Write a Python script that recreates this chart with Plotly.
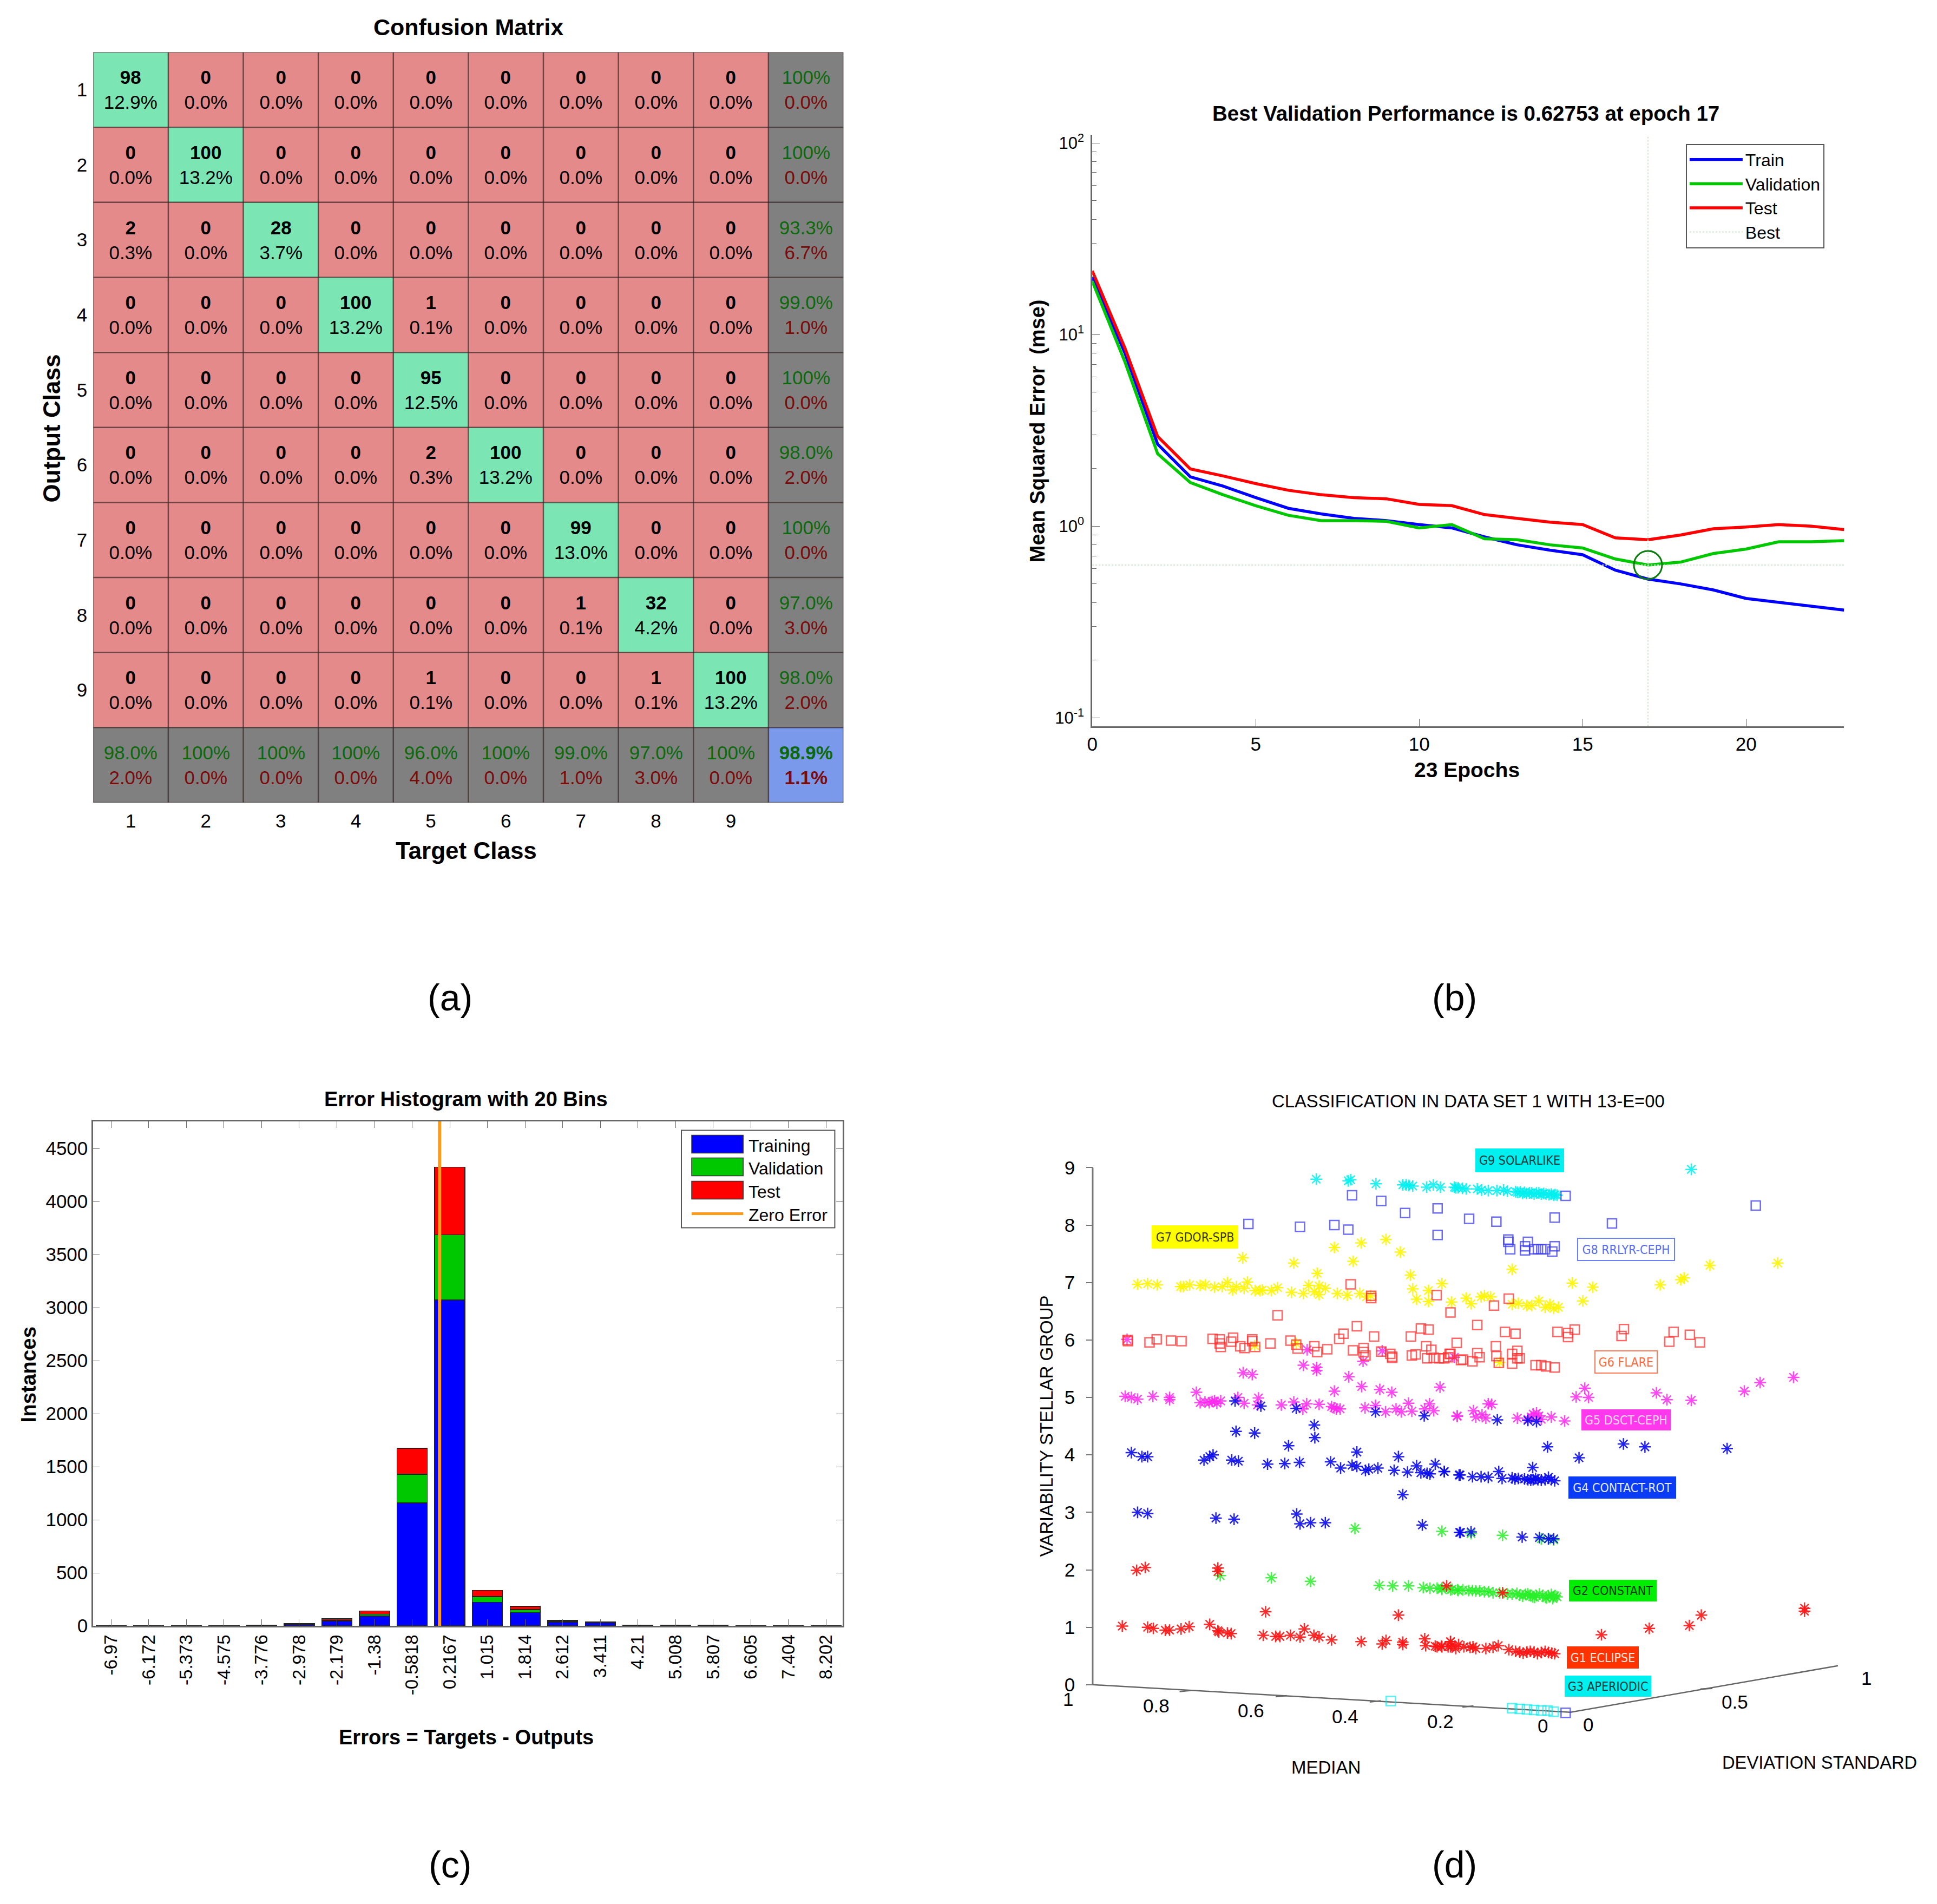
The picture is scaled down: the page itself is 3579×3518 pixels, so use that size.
import plotly.graph_objects as go

W, H = 3579, 3518
FONT = "Liberation Sans"

# ---- (a) confusion matrix ----
classes = [1, 2, 3, 4, 5, 6, 7, 8, 9]
counts = [
    [98, 0, 0, 0, 0, 0, 0, 0, 0],
    [0, 100, 0, 0, 0, 0, 0, 0, 0],
    [2, 0, 28, 0, 0, 0, 0, 0, 0],
    [0, 0, 0, 100, 1, 0, 0, 0, 0],
    [0, 0, 0, 0, 95, 0, 0, 0, 0],
    [0, 0, 0, 0, 2, 100, 0, 0, 0],
    [0, 0, 0, 0, 0, 0, 99, 0, 0],
    [0, 0, 0, 0, 0, 0, 1, 32, 0],
    [0, 0, 0, 0, 1, 0, 0, 1, 100],
]
total_instances = 760
row_ok = ["100%", "100%", "93.3%", "99.0%", "100%", "98.0%", "100%", "97.0%", "98.0%"]
row_bad = ["0.0%", "0.0%", "6.7%", "1.0%", "0.0%", "2.0%", "0.0%", "3.0%", "2.0%"]
col_ok = ["98.0%", "100%", "100%", "100%", "96.0%", "100%", "99.0%", "97.0%", "100%"]
col_bad = ["2.0%", "0.0%", "0.0%", "0.0%", "4.0%", "0.0%", "1.0%", "3.0%", "0.0%"]
all_ok, all_bad = "98.9%", "1.1%"

# ---- (b) performance ----
epochs = list(range(24))
train_mse = [20, 8, 2.68, 1.81, 1.62, 1.41, 1.24, 1.16, 1.10, 1.07, 1.02, 0.98,
             0.88, 0.80, 0.75, 0.71, 0.59, 0.53, 0.50, 0.465, 0.42, 0.40, 0.38, 0.365]
val_mse = [19, 7.2, 2.39, 1.69, 1.46, 1.28, 1.14, 1.07, 1.07, 1.06, 0.98, 1.02,
           0.86, 0.85, 0.80, 0.77, 0.675, 0.62753, 0.65, 0.72, 0.76, 0.83, 0.83, 0.84]
test_mse = [21.5, 8.5, 2.94, 1.99, 1.83, 1.67, 1.54, 1.46, 1.41, 1.39, 1.30, 1.28,
            1.15, 1.10, 1.05, 1.02, 0.87, 0.85, 0.90, 0.97, 0.99, 1.02, 1.0, 0.96]
best_epoch, best_mse = 17, 0.62753

# ---- (c) error histogram ----
bin_labels = ["-6.97", "-6.172", "-5.373", "-4.575", "-3.776", "-2.978", "-2.179", "-1.38",
              "-0.5818", "0.2167", "1.015", "1.814", "2.612", "3.411", "4.21", "5.008",
              "5.807", "6.605", "7.404", "8.202"]
bin_centers = [float(s) for s in bin_labels]
hist_train = [2, 2, 1, 1, 6, 16, 45, 92, 1160, 3071, 224, 127, 33, 28, 6, 5, 4, 1, 2, 2]
hist_val = [0, 0, 0, 0, 1, 4, 8, 18, 268, 615, 53, 27, 8, 5, 1, 1, 1, 0, 0, 0]
hist_test = [1, 1, 1, 0, 2, 5, 15, 30, 246, 637, 57, 30, 10, 5, 2, 1, 1, 0, 1, 1]
hist_ticks = [0, 500, 1000, 1500, 2000, 2500, 3000, 3500, 4000, 4500]

# ---- (d) classification, projected onto the page: horizontal = median axis position (%),
# vertical = group axis ----
g9_x = [53.2, 46.5, 46.0, 40.7, 35.1, 34.4, 33.8, 33.0, 30.1, 28.7, 27.2, 24.3, 24.0, 23.5, 22.6, 21.8,
        19.5, 18.6, 17.2, 15.4, 14.0, 13.2, 11.5, 11.1, 10.5, 10.0, 9.6, 9.2, 8.6, 8.1, 7.6, 7.1, 6.6,
        6.1, 5.6, 5.1, 4.5, 4.0, 3.5, 3.2, 2.8, -25.3]
g9_y = [8.80, 8.77, 8.79, 8.72, 8.70, 8.70, 8.69, 8.68, 8.66, 8.70, 8.66, 8.66, 8.65, 8.65, 8.64, 8.63,
        8.63, 8.61, 8.60, 8.60, 8.61, 8.59, 8.58, 8.57, 8.58, 8.55, 8.57, 8.55, 8.56, 8.56, 8.54, 8.56, 8.56,
        8.54, 8.55, 8.54, 8.53, 8.54, 8.52, 8.53, 8.52, 8.97]
g8_x = [67.4, 56.6, 49.4, 46.5, 45.7, 39.6, 34.6, 27.8, 27.8, 21.2, 15.5, 3.3, -8.7, -38.8, 1.0, 13.0, 13.0,
        12.6, 8.9, 9.5, 9.5, 7.6, 6.8, 6.1, 5.3, 3.3, 3.8, 1.0]
g8_y = [8.02, 7.97, 8.00, 7.92, 8.52, 8.42, 8.21, 8.29, 7.83, 8.11, 8.06, 8.13, 8.03, 8.34, 8.51, 7.75, 7.71,
        7.58, 7.71, 7.63, 7.56, 7.58, 7.58, 7.58, 7.58, 7.63, 7.54, -0.49]
g7_x = [90.6, 88.5, 86.5, 81.6, 81.0, 79.7, 77.5, 76.4, 74.5, 72.9, 71.8, 70.7, 69.9, 68.3, 67.6, 66.0, 65.0,
        64.5, 62.6, 61.3, 58.4, 55.9, 54.8, 53.6, 52.6, 52.6, 51.3, 48.8, 46.7, 44.1, 42.7, 41.8, 33.0, 32.2,
        29.7, 29.7, 26.9, 24.9, 68.6, 57.9, 53.0, 45.5, 49.4, 43.8, 38.6, 35.6, 33.5, 66.1, 57.4,
        21.8, 20.8, 18.7, 18.0, 16.7, 12.2, 12.2, 10.9, 9.1, 8.1, 6.6, 5.3, 4.3, 3.5, 2.5, -0.4, -4.7, -2.6,
        -18.8, -23.1, -23.8, -29.2, -43.4, 14.8]
g7_y = [6.97, 6.98, 6.96, 6.93, 6.93, 6.96, 6.95, 6.96, 6.92, 6.93, 7.00, 6.87, 6.93, 6.90, 7.01, 6.86, 6.86,
        6.87, 6.86, 6.91, 6.83, 6.81, 6.95, 6.84, 6.94, 6.79, 6.90, 6.81, 6.78, 6.81, 6.75, 6.77, 6.89, 6.71,
        6.86, 6.67, 6.98, 6.66, 7.43, 7.34, 7.16, 7.37, 7.61, 7.69, 7.75, 7.53, 7.13, 5.90, 5.94,
        6.73, 6.63, 6.75, 6.77, 6.75, 7.23, 6.62, 6.64, 6.60, 6.60, 6.68, 6.57, 6.62, 6.55, 6.57, 6.99, 6.92, 6.68,
        6.96, 7.05, 7.08, 7.30, 7.34, 5.61]
g6_x = [92.7, 92.6, 88.1, 86.6, 83.6, 81.4, 74.9, 73.4, 73.4, 73.2, 71.0, 70.6, 69.1, 68.2, 66.6, 66.6, 66.0,
        62.8, 61.3, 58.6, 57.4, 57.1, 53.6, 53.0, 50.9, 48.4, 47.5, 46.0, 45.5, 44.7, 43.3, 43.3, 42.9, 41.7,
        41.7, 41.1, 39.6, 37.7, 37.3, 37.3, 33.4, 33.2, 32.4, 31.3, 29.7, 30.2, 30.0, 29.1, 28.6, 28.0, 27.5,
        25.6, 25.1, 25.1, 23.8, 22.9,
        19.5, 16.0, 13.7, 11.5, 12.9, 2.7, 0.5, -0.9, 0.5, -11.2, -10.7, -21.6, -20.7, -25.0, -27.1, 15.6, 19.5,
        19.0, 15.5, 15.0, 12.2, 11.1, 12.2, 11.1, 10.6, 7.3, 6.1, 5.1, 3.3, 25.3, 26.4, 22.5, 20.5]
g6_y = [6.00, 5.98, 5.96, 6.01, 5.99, 5.98, 6.02, 6.01, 5.94, 5.88, 5.97, 6.04, 5.89, 5.86, 6.01, 5.98, 5.88,
        5.94, 6.43, 5.99, 5.92, 5.85, 5.89, 5.79, 5.84, 6.02, 6.11, 6.97, 5.82, 6.24, 5.86, 5.79, 5.73, 6.77,
        6.73, 6.06, 5.80, 5.76, 5.71, 5.69, 6.06, 5.73, 5.75, 6.20, 6.18, 5.89, 5.68, 5.83, 5.69, 6.78, 5.68,
        5.70, 5.76, 6.48, 5.95, 5.65,
        6.26, 6.60, 6.14, 6.11, 6.72, 6.14, 6.12, 6.18, 6.05, 6.19, 6.07, 6.14, 5.97, 6.09, 5.96, 5.89, 5.77,
        5.70, 5.72, 5.60, 5.76, 5.81, 5.59, 5.68, 5.68, 5.56, 5.56, 5.54, 5.52, 5.76, 5.68, 5.66, 5.63]
g5_x = [93.2, 91.9, 90.6, 87.4, 83.9, 83.9, 78.3, 77.5, 75.6, 74.5, 73.2, 69.6, 68.3, 65.3, 65.5, 60.5, 57.9,
        56.0, 55.2, 52.6, 49.5, 48.2, 43.0, 40.8, 38.7, 36.5, 35.4, 33.2, 33.9, 29.5, 28.6, 23.7, 49.4, 43.7,
        39.9, 37.4, 27.3, 46.4, 68.5, 66.6, 55.9, 53.1, 53.1, 55.1, 43.4, 39.4, 92.8,
        23.7, 20.3, 19.8, 17.7, 17.2, 11.1, 8.9, 7.8, 7.1, 6.1, 4.0, 1.2, -3.0, -1.2, -3.8, -18.0, -20.2, -25.3,
        -36.4, -39.7, -46.7, 24.3, 75.0, 74.0, 76.5, 50.0, 49.0, 30.5, 18.5, 16.5, 8.2, 6.6]
g5_y = [5.02, 5.00, 4.97, 5.02, 4.96, 5.00, 5.09, 4.91, 4.91, 4.94, 4.94, 5.00, 4.90, 4.99, 4.87, 4.87, 4.92,
        4.80, 4.89, 4.88, 4.82, 4.80, 4.82, 4.86, 4.75, 4.80, 4.75, 4.76, 4.90, 4.89, 4.77, 4.67, 5.11, 5.19,
        5.14, 5.09, 5.18, 5.36, 5.43, 5.40, 5.56, 5.52, 5.47, 5.83, 5.63, 5.81, 6.01,
        4.68, 4.77, 4.66, 4.64, 4.89, 4.64, 4.62, 4.71, 4.73, 4.62, 4.66, 4.59, 5.16, 5.01, 5.00, 5.08, 4.96, 4.95,
        5.11, 5.26, 5.35, 5.70, 4.93, 4.90, 4.92, 4.84, 4.80, 4.80, 4.70, 4.88, 4.66, 4.68]
g4_x = [91.9, 89.7, 88.5, 76.7, 75.5, 74.8, 70.9, 69.5, 63.4, 59.8, 56.7, 50.2, 48.1, 45.7, 44.7, 42.9, 42.2,
        40.3, 36.9, 34.1, 32.2, 31.3, 30.0, 29.4, 28.3, 26.4, 23.3, 36.0, 44.7, 59.0, 70.0, 66.1, 53.6, 53.5,
        35.1, 90.6, 88.5, 74.2, 70.4, 57.3, 56.6, 54.4, 51.3, 31.0, 23.2, 70.2, 64.8, 57.4, 40.8, 30.6,
        26.4, 23.1, 20.5, 18.7, 17.2, 15.0, 14.3, 12.2, 10.9, 8.9, 7.8, 7.9, 6.8, 5.3, 4.6, 3.3, 4.8, -1.8,
        -11.1, -15.6, -32.8, 15.3, 8.9, 7.1, 23.0, 20.8, 10.1, 6.5, 4.6, 3.5, 11.6, 9.6, 8.3, 7.3, 6.1, 4.0]
g4_y = [4.04, 3.97, 3.97, 3.91, 3.97, 4.00, 3.91, 3.89, 3.84, 3.85, 3.87, 3.88, 3.77, 3.82, 3.80, 3.73, 3.75,
        3.77, 3.73, 3.70, 3.81, 3.69, 3.68, 3.67, 3.84, 3.71, 3.65, 3.97, 4.05, 4.16, 4.41, 4.38, 4.52, 4.30,
        3.31, 3.00, 2.98, 2.90, 2.88, 2.97, 2.80, 2.82, 2.82, 2.78, 2.65, 4.94, 4.85, 4.81, 4.75, 4.68,
        3.71, 3.65, 3.62, 3.62, 3.61, 3.71, 3.59, 3.60, 3.59, 3.57, 3.57, 3.78, 3.57, 3.57, 3.61, 3.55, 4.14, 3.95,
        4.19, 4.14, 4.11, 4.61, 4.60, 4.58, 2.65, 2.66, 2.57, 2.56, 2.54, 2.54, 3.58, 3.58, 3.56, 3.59, 3.56, 3.57]
g2_x = [45.1, 26.9, 73.3, 62.6, 54.4, 40.0, 37.2, 33.9, 30.8, 29.4, 26.9, 25.1, 23.5, 20.8, 14.2, 6.1, 4.6, 3.5,
        27.9, 26.9, 23.6, 21.3, 19.8, 18.0, 16.2, 13.2, 12.2, 9.4, 8.4, 7.1, 5.8, 4.6, 3.5, 2.8,
        24.8, 22.5, 20.5, 19.0, 17.1, 14.8, 11.2, 10.6, 10.0, 8.9, 7.9, 6.5, 5.2, 4.0, 3.2, 7.5, 5.0, 3.7]
g2_y = [2.72, 2.67, 1.90, 1.86, 1.80, 1.73, 1.72, 1.72, 1.69, 1.68, 1.68, 1.65, 1.64, 2.63, 2.60, 2.54, 2.54, 2.52,
        1.68, 1.66, 1.65, 1.64, 1.63, 1.62, 1.60, 1.58, 1.58, 1.57, 1.56, 1.55, 1.55, 1.55, 1.53, 1.53,
        1.66, 1.65, 1.64, 1.63, 1.62, 1.60, 1.59, 1.56, 1.54, 1.58, 1.53, 1.58, 1.52, 1.57, 1.55, 1.52, 1.51, 1.50]
g1_x = [93.8, 88.5, 87.3, 84.8, 83.9, 81.5, 79.8, 75.5, 73.8, 73.6, 71.8, 71.0, 64.3, 61.7, 60.8, 58.6, 56.6,
        55.7, 53.7, 52.6, 50.0, 43.8, 39.4, 38.6, 35.1, 35.1, 30.5, 30.3, 28.3, 27.0, 25.6, 25.1, 24.8, 63.8,
        36.0, 90.8, 89.0, 73.8, 73.8, 25.9,
        27.9, 26.9, 25.1, 25.1, 22.3, 21.0, 19.8, 17.7, 16.2, 15.1, 12.9, 10.6, 9.1, 7.6, 6.1, 4.6, 3.3, -6.5,
        -16.5, -24.9, -27.4, -49.0, -49.0, 14.2, 11.5, 9.9, 8.4, 6.9, 5.3, 3.9, 23.4, 24.0, 20.4]
g1_y = [1.02, 1.00, 0.98, 0.95, 0.95, 0.97, 1.01, 1.05, 0.94, 0.92, 0.90, 0.89, 0.86, 0.84, 0.84, 0.86, 0.83,
        0.97, 0.86, 0.83, 0.78, 0.75, 0.71, 0.77, 0.74, 0.70, 0.80, 0.68, 0.67, 0.67, 0.66, 0.75, 0.68, 1.27,
        1.21, 1.99, 2.04, 2.03, 1.97, 1.72,
        0.66, 0.66, 0.75, 0.66, 0.66, 0.65, 0.63, 0.63, 0.65, 0.68, 0.61, 0.57, 0.57, 0.57, 0.56, 0.56, 0.54, 0.87,
        0.98, 1.03, 1.21, 1.33, 1.28, 1.60, 0.58, 0.55, 0.58, 0.54, 0.58, 0.55, 0.70, 0.63, 0.66]
g3_x = [37.6, 12.2, 10.6, 9.1, 7.6, 6.1, 4.8, 3.5]
g3_y = [-0.285, -0.41, -0.42, -0.43, -0.44, -0.45, -0.45, -0.47]
group_ticks = [0, 1, 2, 3, 4, 5, 6, 7, 8, 9]

# floor lines of the 3d box and their tick stubs
floor_x = [100, 0, -56, None, 81.8, 79.5, None, 61.7, 59.4, None, 42.0, 39.7, None, 22.6, 20.3, None, -29.7, -27.2]
floor_y = [0, -0.48, 0.33, None, -0.12, -0.10, None, -0.21, -0.19, None, -0.30, -0.28, None, -0.39, -0.37, None, -0.065, -0.075]
floor_labels = ["1", "0.8", "0.6", "0.4", "0.2", "0", "0", "0.5", "1"]
floor_label_x = [105.1, 86.7, 66.9, 47.1, 27.2, 5.8, -3.7, -34.4, -61.9]
floor_label_y = [-0.25, -0.36, -0.45, -0.55, -0.635, -0.71, -0.69, -0.30, 0.12]

# text, x, y, width, height, fill, border, text colour
group_tags = [
    ("G9 SOLARLIKE", 10.6, 9.13, 160, 40, "#00f0f0", "#00f0f0", "#063a3a"),
    ("G7 GDOR-SPB", 78.6, 7.79, 156, 39, "#ffff00", "#ffff00", "#3a3a00"),
    ("G8 RRLYR-CEPH", -11.7, 7.58, 177, 39, "#ffffff", "#6a80f5", "#5a70ee"),
    ("G6 FLARE", -11.7, 5.62, 113, 39, "#ffffff", "#ff7755", "#ff6a3c"),
    ("G5 DSCT-CEPH", -11.6, 4.61, 161, 35, "#ff38ee", "#ff38ee", "#ffd8fa"),
    ("G4 CONTACT-ROT", -10.9, 3.43, 195, 37, "#0a3cf5", "#0a3cf5", "#e0e8ff"),
    ("G2 CONSTANT", -8.9, 1.64, 158, 36, "#00ee00", "#00ee00", "#053a05"),
    ("G1 ECLIPSE", -6.8, 0.47, 129, 37, "#ff3300", "#ff3300", "#ffe4da"),
    ("G3 APERIODIC", -7.9, -0.03, 156, 35, "#00f0f0", "#00f0f0", "#063a3a"),
]


# layout helpers, small correction for how the page ends up in the window
def px(x):
    return (1.00436 * x - 13) / W


def py(y):
    return 1 - (1.00666 * y - 6.4) / H


def note(text, x, y, size, angle=0, color="black", family=FONT):
    fig.add_annotation(text=text, x=px(x), y=py(y), xref="paper", yref="paper", showarrow=False,
                       font=dict(family=family, size=size, color=color), textangle=angle,
                       xanchor="center", yanchor="middle")


fig = go.Figure()

# cell colour codes and texts for the confusion matrix
cell_code, cell_text = [], []
for i in range(9):
    codes = [1 if i == j else 0 for j in range(9)] + [2]
    texts = [f"<b>{counts[i][j]}</b><br>{counts[i][j] / total_instances * 100:.1f}%" for j in range(9)]
    texts.append(f"<span style='color:#0c6a0c'>{row_ok[i]}</span><br><span style='color:#7c0a0a'>{row_bad[i]}</span>")
    cell_code.append(codes)
    cell_text.append(texts)
cell_code.append([2] * 9 + [3])
bottom = [f"<span style='color:#0c6a0c'>{a}</span><br><span style='color:#7c0a0a'>{b}</span>" for a, b in zip(col_ok, col_bad)]
bottom.append(f"<span style='color:#0c6a0c'><b>{all_ok}</b></span><br><span style='color:#7c0a0a'><b>{all_bad}</b></span>")
cell_text.append(bottom)

cells = classes + [10]
fig.add_trace(go.Heatmap(
    x=cells, y=cells, z=cell_code, text=cell_text, texttemplate="%{text}", zmin=0, zmax=3,
    colorscale=[[0, "#e58a8a"], [1 / 3, "#7be6b3"], [2 / 3, "#808080"], [1, "#7a99ea"]],
    showscale=False, textfont=dict(family=FONT, size=35, color="black"),
    xaxis="x", yaxis="y", showlegend=False, hoverinfo="skip",
))
for k in range(11):
    edge = k + 0.5
    fig.add_shape(type="line", xref="x", yref="y", x0=edge, x1=edge, y0=0.5, y1=10.5,
                  line=dict(color="rgba(50,30,30,0.65)", width=2.5))
    fig.add_shape(type="line", xref="x", yref="y", x0=0.5, x1=10.5, y0=edge, y1=edge,
                  line=dict(color="rgba(50,30,30,0.65)", width=2.5))

# performance curves
for name, vals, color in [("Train", train_mse, "#0000ff"), ("Validation", val_mse, "#00c800"), ("Test", test_mse, "#ff0000")]:
    fig.add_trace(go.Scatter(x=epochs, y=vals, name=name, mode="lines", line=dict(color=color, width=5.5),
                             xaxis="x2", yaxis="y2"))
fig.add_trace(go.Scatter(x=[0, 23, None, best_epoch, best_epoch], y=[best_mse, best_mse, None, 0.0905, 110],
                         name="Best", mode="lines", line=dict(color="#cfe6cf", width=2, dash="dot"),
                         xaxis="x2", yaxis="y2"))
fig.add_trace(go.Scatter(x=[best_epoch], y=[best_mse], mode="markers", showlegend=False,
                         marker=dict(symbol="circle-open", size=52, color="#0a7a0a", line=dict(width=3)),
                         xaxis="x2", yaxis="y2"))

# histogram
for name, vals, color in [("Training", hist_train, "#0000ff"), ("Validation", hist_val, "#00c800"), ("Test", hist_test, "#ff0000")]:
    fig.add_trace(go.Bar(x=bin_centers, y=vals, name=name, showlegend=False, width=0.64,
                         marker=dict(color=color, line=dict(color="#222222", width=1.5)),
                         xaxis="x3", yaxis="y3"))
fig.add_trace(go.Scatter(x=[0, 0], y=[0, 4757], name="Zero Error", showlegend=False, mode="lines",
                         line=dict(color="#ff9a1a", width=6), xaxis="x3", yaxis="y3"))

# 3d-looking scatter
def star(x, y, name, color):
    fig.add_trace(go.Scatter(x=x, y=y, name=name, mode="markers", showlegend=False, xaxis="x4", yaxis="y4",
                             marker=dict(symbol="asterisk-open", size=18, color=color, line=dict(width=2.5))))


def box(x, y, name, color):
    fig.add_trace(go.Scatter(x=x, y=y, name=name, mode="markers", showlegend=False, xaxis="x4", yaxis="y4",
                             marker=dict(symbol="square-open", size=17, color=color, line=dict(width=2.5))))


fig.add_trace(go.Scatter(x=[100, 100], y=[0, 9], mode="lines", showlegend=False, line=dict(color="#777777", width=3),
                         xaxis="x4", yaxis="y4"))
fig.add_trace(go.Scatter(x=floor_x, y=floor_y, mode="lines", showlegend=False, line=dict(color="#666666", width=2.5),
                         xaxis="x4", yaxis="y4"))
star(g9_x, g9_y, "G9 SOLARLIKE", "rgba(0,240,240,0.85)")
star(g7_x, g7_y, "G7 GDOR-SPB", "rgba(255,245,0,0.9)")
star(g5_x, g5_y, "G5 DSCT-CEPH", "rgba(255,40,240,0.85)")
star(g2_x, g2_y, "G2 CONSTANT", "rgba(40,240,40,0.85)")
star(g1_x, g1_y, "G1 ECLIPSE", "rgba(255,20,20,0.9)")
star(g4_x, g4_y, "G4 CONTACT-ROT", "rgba(10,10,240,0.9)")
box(g8_x, g8_y, "G8 RRLYR-CEPH", "rgba(60,60,240,0.75)")
box(g6_x, g6_y, "G6 FLARE", "rgba(255,50,50,0.75)")
box(g3_x, g3_y, "G3 APERIODIC", "rgba(0,235,235,0.65)")

for txt, x, y, bw, bh, fill, edge, ink in group_tags:
    fig.add_annotation(text=txt, x=x, y=y, xref="x4", yref="y4", showarrow=False, width=bw, height=bh,
                       bgcolor=fill, bordercolor=edge, borderwidth=2, borderpad=0,
                       font=dict(family="DejaVu Sans Condensed", size=23, color=ink))
for txt, x, y in zip(floor_labels, floor_label_x, floor_label_y):
    fig.add_annotation(text=txt, x=x, y=y, xref="x4", yref="y4", showarrow=False,
                       font=dict(family=FONT, size=35, color="black"))

# manual legend for the histogram, the swatches are wider than plotly's bar swatch
fig.add_shape(type="rect", xref="paper", yref="paper", x0=px(1260), x1=px(1543), y0=py(2270), y1=py(2090),
              fillcolor="white", line=dict(color="#555555", width=2))
for label, color, top in [("Training", "#0000ff", 2099), ("Validation", "#00c800", 2141), ("Test", "#ff0000", 2184)]:
    fig.add_shape(type="rect", xref="paper", yref="paper", x0=px(1279), x1=px(1374), y0=py(top + 33), y1=py(top),
                  fillcolor=color, line=dict(color="#333333", width=1.5))
    fig.add_annotation(text=label, x=px(1382), y=py(top + 19), xref="paper", yref="paper", showarrow=False,
                       xanchor="left", font=dict(family=FONT, size=32, color="black"))
fig.add_shape(type="line", xref="paper", yref="paper", x0=px(1279), x1=px(1374), y0=py(2244), y1=py(2244),
              line=dict(color="#ff9a1a", width=5))
fig.add_annotation(text="Zero Error", x=px(1382), y=py(2246), xref="paper", yref="paper", showarrow=False,
                   xanchor="left", font=dict(family=FONT, size=32, color="black"))

# titles and panel letters
note("<b>Confusion Matrix</b>", 867, 50, 43)
note("<b>Target Class</b>", 863, 1573, 44)
note("<b>Output Class</b>", 98, 792, 44, -90)
note("<b>Best Validation Performance is 0.62753 at epoch 17</b>", 2707, 210, 38.5)
note("<b>23 Epochs</b>", 2709, 1424, 39)
note("<b>Mean Squared Error  (mse)</b>", 1917, 797, 38, -90)
note("<b>Error Histogram with 20 Bins</b>", 863, 2032, 38)
note("<b>Errors = Targets - Outputs</b>", 863, 3212, 38)
note("<b>Instances</b>", 55, 2541, 38.5, -90)
note("CLASSIFICATION IN DATA SET 1 WITH 13-E=00", 2712, 2036, 32.8)
note("VARIABILITY STELLAR GROUP", 1933, 2637, 33, -90)
note("MEDIAN", 2449, 3267, 33)
note("DEVIATION STANDARD", 3360, 3258, 32.7)
note("(a)", 833, 1844, 68)
note("(b)", 2686, 1844, 68)
note("(c)", 833, 3447, 68)
note("(d)", 2686, 3447, 68)

tick_font = dict(family=FONT, size=35, color="black")
frame = "#666666"
fig.update_layout(
    width=W, height=H, margin=dict(l=0, r=0, t=0, b=0), autosize=False, showlegend=True, barmode="stack",
    paper_bgcolor="white", plot_bgcolor="white", font=dict(family=FONT),
    xaxis=dict(domain=[px(175), px(1559)], range=[0.5, 10.5], tickvals=classes, ticks="", showgrid=False,
               zeroline=False, tickfont=tick_font, ticklabelstandoff=10, anchor="y"),
    yaxis=dict(domain=[py(1484), py(97)], range=[10.5, 0.5], tickvals=classes, ticks="", showgrid=False,
               zeroline=False, tickfont=tick_font, ticklabelstandoff=10, anchor="x"),
    xaxis2=dict(domain=[px(2018), px(3405)], range=[0, 23], tickvals=[0, 5, 10, 15, 20], ticks="inside", ticklen=14,
                tickcolor=frame, showgrid=False, zeroline=False, showline=True, linecolor=frame, linewidth=3,
                tickfont=tick_font, anchor="y2"),
    yaxis2=dict(domain=[py(1343), py(249)], type="log", range=[-1.044, 2.044], tickvals=[0.1, 1, 10, 100],
                ticktext=["10<sup>-1</sup>", "10<sup>0</sup>", "10<sup>1</sup>", "10<sup>2</sup>"],
                ticks="inside", ticklen=14, tickcolor=frame, showgrid=False, zeroline=False, showline=True,
                linecolor=frame, linewidth=3, tickfont=dict(family=FONT, size=31, color="black"), anchor="x2",
                ticklabelstandoff=6, minor=dict(ticks="inside", ticklen=8, tickcolor=frame, dtick="D1", showgrid=False)),
    xaxis3=dict(domain=[px(175), px(1558)], range=[-7.35, 8.56], tickvals=bin_centers, ticktext=bin_labels,
                tickangle=-90, ticks="inside", ticklen=12, tickcolor=frame, mirror="ticks", showgrid=False,
                zeroline=False, showline=True, linecolor=frame, linewidth=3,
                tickfont=dict(family=FONT, size=33, color="black"), anchor="y3"),
    yaxis3=dict(domain=[py(3006), py(2073)], range=[0, 4757], tickvals=hist_ticks, ticks="inside", ticklen=12,
                tickcolor=frame, mirror="ticks", showgrid=False, zeroline=False, showline=True, linecolor=frame,
                linewidth=3, tickfont=tick_font, anchor="x3"),
    xaxis4=dict(domain=[px(1913), px(3473)], range=[112, -65], visible=False, anchor="y4"),
    yaxis4=dict(domain=[py(3215.6), py(2127)], range=[-0.95, 9.3], tickvals=group_ticks, ticks="outside", ticklen=12,
                tickcolor="#777777", tickwidth=2, showgrid=False, zeroline=False, showline=False,
                tickfont=tick_font, ticklabelstandoff=14, anchor="free", position=px(2019)),
    legend=dict(x=px(3113), y=py(266), xanchor="left", yanchor="top", bgcolor="white", bordercolor="#555555",
                borderwidth=2, itemwidth=98, entrywidth=180, traceorder="normal",
                font=dict(family=FONT, size=32, color="black")),
)

# page margin would push the figure away from the window corner
fig.write_html("out.html", config=dict(displayModeBar=False), post_script="document.body.style.margin='0';")
